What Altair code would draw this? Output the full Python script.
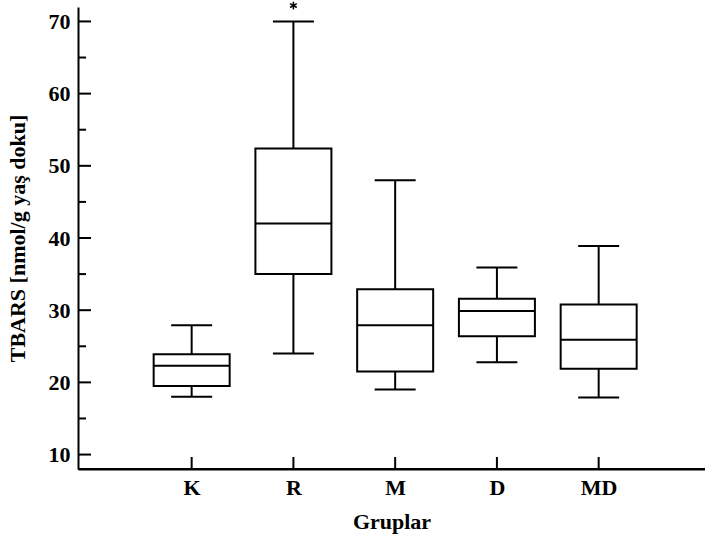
import json
import altair as alt
import pandas as pd

groups = ["K", "R", "M", "D", "MD"]
lower = [18, 24, 19, 22.8, 17.9]
q1 = [19.5, 35, 21.5, 26.4, 21.9]
median = [22.3, 42, 27.9, 29.9, 25.9]
q3 = [23.9, 52.4, 32.9, 31.6, 30.8]
upper = [27.9, 70, 48, 35.9, 38.9]

outlier_groups = ["R"]
outlier_values = [72.2]

major_ticks = [10, 20, 30, 40, 50, 60, 70]
minor_ticks = [15, 25, 35, 45, 55, 65]

FONT = "Liberation Serif"
FS = 22

idx = list(range(len(groups)))
df = pd.DataFrame({"i": idx, "group": groups, "lower": lower, "q1": q1, "median": median,
                   "q3": q3, "upper": upper})
out_df = pd.DataFrame({"i": [groups.index(g) for g in outlier_groups], "value": outlier_values})
major_df = pd.DataFrame({"v": major_ticks})
minor_df = pd.DataFrame({"v": minor_ticks})
grp_df = pd.DataFrame({"i": idx})

xscale = alt.Scale(domain=[-1.117, 5.045], nice=False, zero=False, padding=0)
yscale = alt.Scale(domain=[8, 72], nice=False, zero=False, padding=0)

x_axis = alt.Axis(title="Gruplar", values=idx, labelExpr=json.dumps(groups) + "[datum.value]",
                  labelFont=FONT, labelFontWeight="bold", labelFontSize=FS,
                  labelColor="black", titleFont=FONT, titleFontWeight="bold", titleFontSize=FS,
                  titleColor="black", ticks=False, tickSize=0, labelPadding=8, titlePadding=13,
                  domainColor="black", domainWidth=2, labelAngle=0, grid=False,
                  labelFlush=False, labelOverlap=False)
y_axis = alt.Axis(title="TBARS [nmol/g yaş doku]", values=major_ticks, labelFont=FONT,
                  labelFontWeight="bold", labelFontSize=FS, labelColor="black",
                  titleFont=FONT, titleFontWeight="bold", titleFontSize=FS, titleColor="black",
                  ticks=False, tickSize=0, labelPadding=8, titlePadding=19,
                  domainColor="black", domainWidth=2, grid=False, labelFlush=False)

def X(field="i:Q"):
    return alt.X(field, scale=xscale, axis=x_axis)

def Y(field):
    return alt.Y(field, scale=yscale, axis=y_axis)

boxes = alt.Chart(df).mark_bar(size=76, fill="white", stroke="black", strokeWidth=2,
                               opacity=1, orient="vertical").encode(x=X(), y=Y("q1:Q"), y2="q3:Q")
medians = alt.Chart(df).mark_tick(size=76, thickness=2, color="black", opacity=1,
                                  orient="horizontal").encode(x=X(), y=Y("median:Q"))
wh_up = alt.Chart(df).mark_rule(color="black", strokeWidth=2, opacity=1).encode(
    x=X(), y=Y("q3:Q"), y2="upper:Q")
wh_lo = alt.Chart(df).mark_rule(color="black", strokeWidth=2, opacity=1).encode(
    x=X(), y=Y("lower:Q"), y2="q1:Q")
cap_up = alt.Chart(df).mark_tick(size=41, thickness=2, color="black", opacity=1,
                                 orient="horizontal").encode(x=X(), y=Y("upper:Q"))
cap_lo = alt.Chart(df).mark_tick(size=41, thickness=2, color="black", opacity=1,
                                 orient="horizontal").encode(x=X(), y=Y("lower:Q"))

star = alt.Chart(out_df).mark_point(
    shape="M0,-1L0,1M-0.87,-0.5L0.87,0.5M-0.87,0.5L0.87,-0.5",
    size=60, filled=False, stroke="black", strokeWidth=1.5, opacity=1).encode(
    x=X(), y=Y("value:Q"))

ytick_major = alt.Chart(major_df).mark_rule(color="black", strokeWidth=2).encode(
    y=Y("v:Q"), x=alt.value(0), x2=alt.value(13))
ytick_minor = alt.Chart(minor_df).mark_rule(color="black", strokeWidth=2).encode(
    y=Y("v:Q"), x=alt.value(0), x2=alt.value(8))
xticks = alt.Chart(grp_df).mark_rule(color="black", strokeWidth=2).encode(
    x=X(), y=alt.value(450), y2=alt.value(462))
x_baseline = alt.Chart(grp_df.head(1)).mark_rule(color="black", strokeWidth=2).encode(
    x=alt.value(0), x2=alt.value(627), y=alt.value(462))

chart = alt.layer(boxes, medians, wh_up, wh_lo, cap_up, cap_lo, star,
                  ytick_major, ytick_minor, xticks, x_baseline).properties(
    width=627, height=462,
    autosize=alt.AutoSizeParams(type="none"),
    padding={"left": 78, "top": 7, "right": 0, "bottom": 66},
    background="white",
).configure_view(stroke=None)

chart.save("out.html", embed_options={"renderer": "svg", "actions": False})
